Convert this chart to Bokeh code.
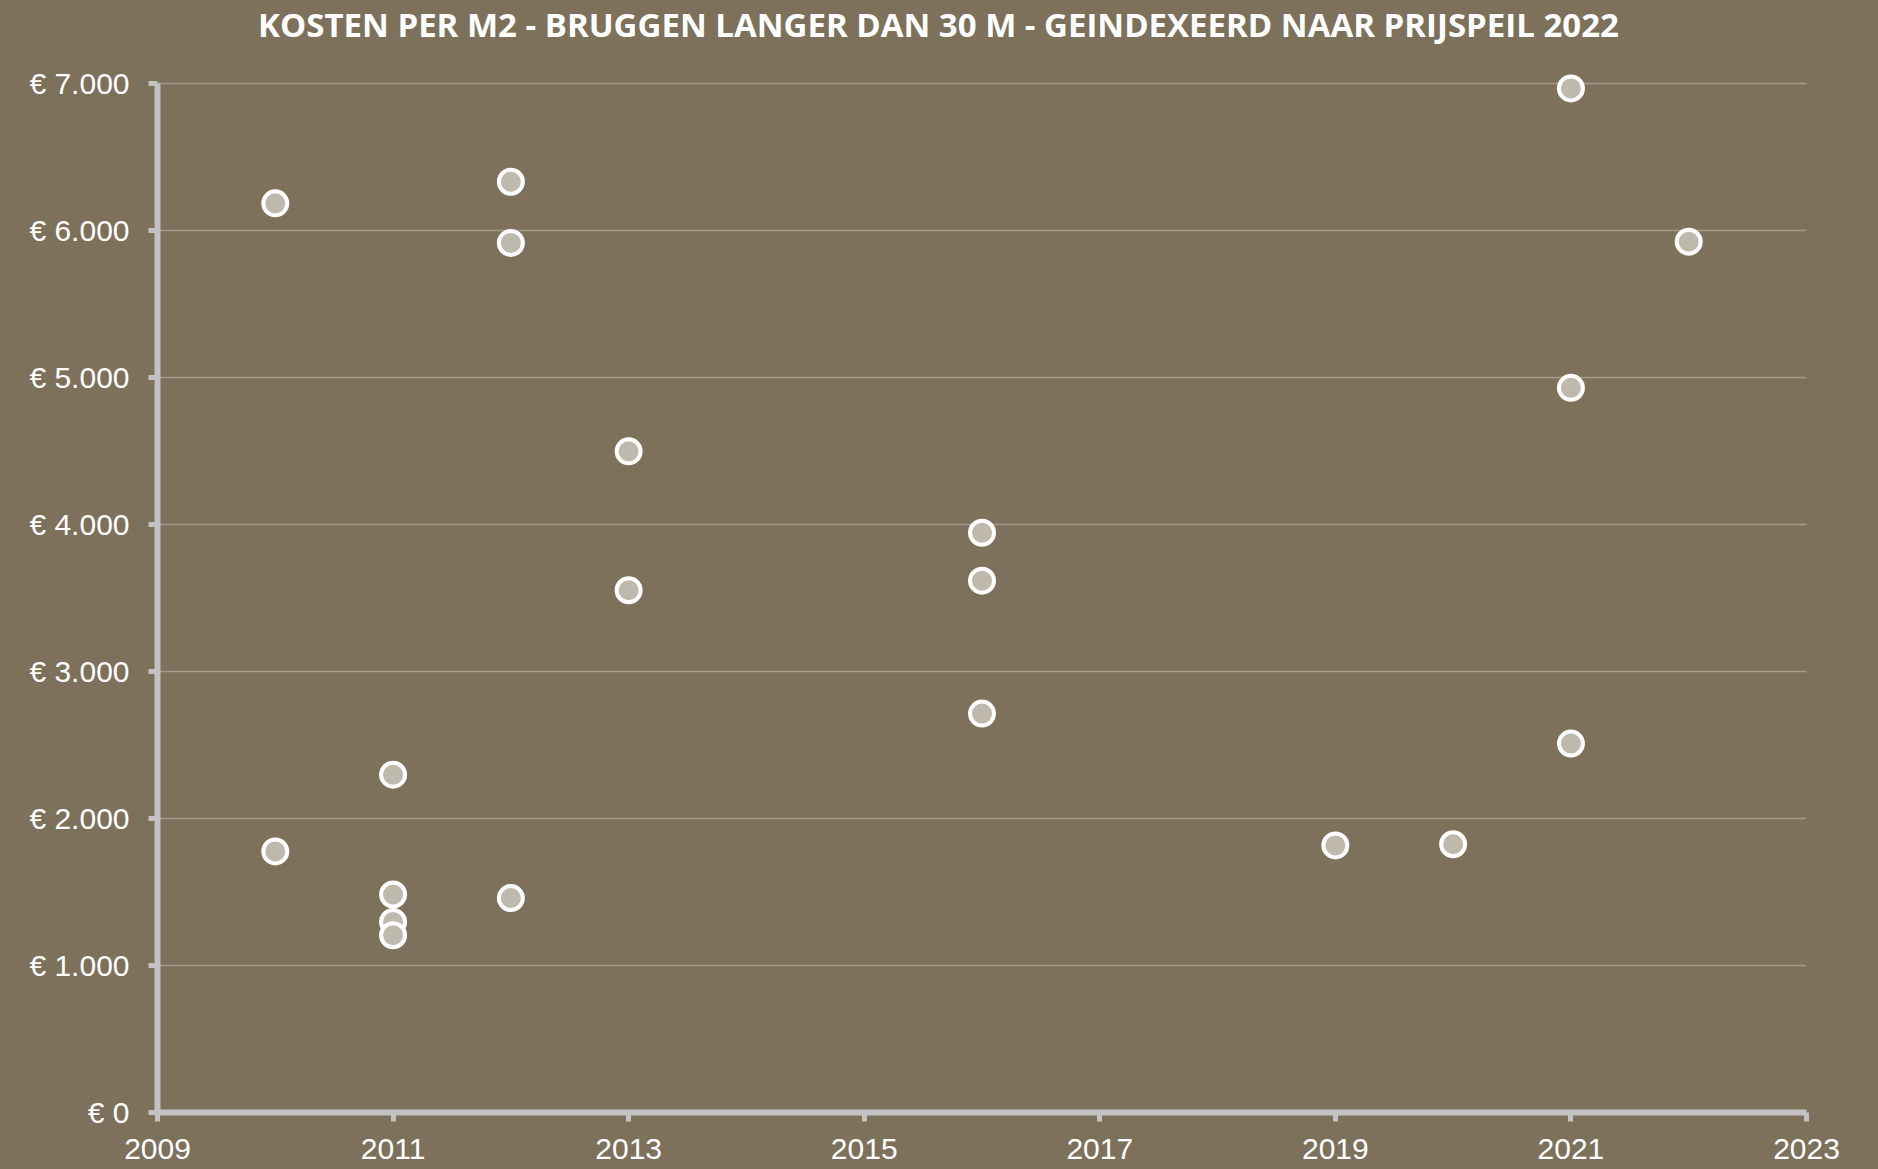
from bokeh.plotting import figure
from bokeh.models import FixedTicker, Range1d, Label
from bokeh.embed import file_html
from bokeh.resources import INLINE

# ---- data ----
years = [2010, 2010, 2011, 2011, 2011, 2011, 2012, 2012, 2012, 2013, 2013,
         2016, 2016, 2016, 2019, 2020, 2021, 2021, 2021, 2022]
costs = [6185, 1776, 2298, 1483, 1296, 1206, 6332, 5916, 1459, 4498, 3553,
         3944, 3618, 2714, 1817, 1825, 6967, 4930, 2510, 5924]
x_ticks = [2009, 2011, 2013, 2015, 2017, 2019, 2021, 2023]
y_ticks = [0, 1000, 2000, 3000, 4000, 5000, 6000, 7000]
y_tick_labels = ["€ 0", "€ 1.000", "€ 2.000", "€ 3.000", "€ 4.000",
                 "€ 5.000", "€ 6.000", "€ 7.000"]
title_text = "KOSTEN PER M2 - BRUGGEN LANGER DAN 30 M - GEINDEXEERD NAAR PRIJSPEIL 2022"

BG = "#7D715B"
AXIS = "#C2C2C2"

# the plotting frame reaches the top of the canvas so the title (a Label) is not clipped;
# the visible axis and grid stop at 7000
p = figure(width=1878, height=1169,
           x_range=Range1d(x_ticks[0], x_ticks[-1]), y_range=Range1d(0, 7565),
           output_backend="svg", toolbar_location=None,
           background_fill_color=None, border_fill_color=BG,
           outline_line_color=None,
           min_border_left=157, min_border_right=72,
           min_border_top=0, min_border_bottom=57)

title = Label(x=(x_ticks[0] + x_ticks[-1]) / 2, y=y_ticks[-1],
              x_offset=-43.5, y_offset=59,
              text=title_text, text_align="center", text_baseline="alphabetic",
              text_color="white", text_font="Open Sans",
              text_font_style="bold", text_font_size="33px")
p.add_layout(title)

p.xgrid.visible = False
p.ygrid.ticker = FixedTicker(ticks=y_ticks)
p.ygrid.grid_line_color = "#A49B89"
p.ygrid.grid_line_width = 1.5

for ax in (p.xaxis[0], p.yaxis[0]):
    ax.axis_line_color = AXIS
    ax.axis_line_width = 6
    ax.major_tick_line_color = AXIS
    ax.major_tick_line_width = 5
    ax.major_tick_in = 0
    ax.major_tick_out = 9
    ax.minor_tick_line_color = None
    ax.major_label_text_color = "white"
    ax.major_label_text_font = "Liberation Sans"
    ax.major_label_text_font_size = "30px"

p.xaxis[0].ticker = FixedTicker(ticks=x_ticks)
p.xaxis[0].bounds = (x_ticks[0], x_ticks[-1])
p.xaxis[0].major_label_standoff = 17

p.yaxis[0].ticker = FixedTicker(ticks=y_ticks)
p.yaxis[0].bounds = (y_ticks[0], y_ticks[-1])
p.yaxis[0].major_label_overrides = {t: l for t, l in zip(y_ticks, y_tick_labels)}
p.yaxis[0].major_label_standoff = 19

p.scatter(years, costs, size=24, fill_color="#BFB8AC", line_color="white",
          line_width=4)

html = file_html(p, INLINE)
html = html.replace("<head>", "<head><style>html,body{background:#7D715B;}</style>", 1)
open("out.html", "w").write(html)
